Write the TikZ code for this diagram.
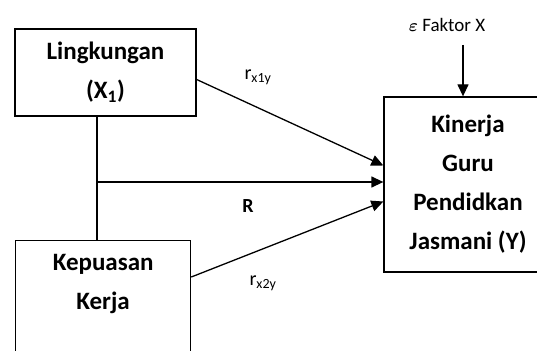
\documentclass[tikz,border=0pt]{standalone}
\usepackage{amsmath,bm}
\usepackage{fontspec}
\setmainfont{Carlito}
\usepackage{tikz}
\usetikzlibrary{arrows.meta, positioning, calc}

\begin{document}
\begin{tikzpicture}[
        x=1pt, y=-1pt,
        % Styles
        varbox/.style={rectangle, draw=black, line width=1.3pt, fill=white, align=center,
                      font=\fontsize{25}{39}\selectfont\bfseries, inner sep=0pt},
        link/.style={line width=1.3pt, black},
        arrow/.style={-{Triangle[length=12pt, width=11pt]}, line width=1.3pt, black},
        coef/.style={font=\fontsize{20}{22}\selectfont},
    ]
    \useasboundingbox (0,0) rectangle (537,350);

    % Variables
    \node[varbox, minimum width=181pt, minimum height=87pt] (lingk) at (105.5,72.5) {Lingkungan\\(X\textsubscript{1})};
    \node[varbox, minimum width=175pt, anchor=north west, text width=175pt, text depth=100pt, inner ysep=14pt]
        (kepuasan) at (15,240) {Kepuasan\\Kerja};
    \node[varbox, minimum width=168pt, minimum height=175pt] (kinerja) at (468,184.5) {Kinerja\\Guru\\Pendidkan\\Jasmani (Y)};

    % Correlation between X1 and X2
    \coordinate (cabang) at (97,182);
    \draw[link] (lingk.south -| cabang) -- (kepuasan.north -| cabang);

    % Paths to Y
    \draw[arrow] ([yshift=-7pt]lingk.east) -- ([yshift=19pt]kinerja.west);
    \draw[arrow] (cabang) -- (cabang -| kinerja.west);
    \draw[arrow] ([yshift=-37pt]kepuasan.north east) -- ([yshift=-17pt]kinerja.west);

    % Error term
    \node[font=\fontsize{19}{21}\selectfont] (faktor) at (447,25) {$\bm{\varepsilon}$ Faktor X};
    \coordinate (eps) at (463,45);
    \draw[arrow] (eps) -- (eps |- kinerja.north);

    % Labels
    \node[coef] (rx1y) at (258,77) {r\textsubscript{x1y}};
    \node[font=\fontsize{20}{22}\selectfont\bfseries] (rlabel) at (248,206) {R};
    \node[coef] (rx2y) at (263,283) {r\textsubscript{x2y}};

    \end{tikzpicture}
\end{document}
